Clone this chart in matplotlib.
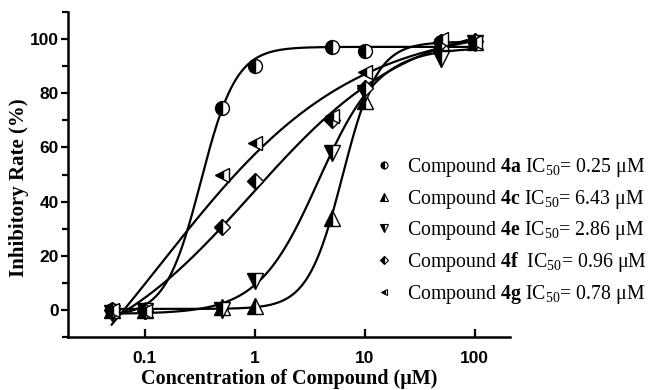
import numpy as np
import matplotlib
matplotlib.use('Agg')
import matplotlib.pyplot as plt

# ---- data ----
conc = [0.05, 0.1, 0.5, 1, 5, 10, 50, 100]
rate_4a = [0, 0, 74.5, 90, 97, 95.5, 99, 99]
rate_4c = [0, 0, 1, 1.5, 34, 77, 99, 99]
rate_4e = [-1, -0.5, 0, 10.5, 58, 80, 92.5, 98.5]
rate_4f = [0, -0.5, 30.5, 47.5, 70, 82, 99, 99.5]
rate_4g = [0, -0.5, 50, 61.5, 71.5, 88, 100, 99]
compounds = ['4a', '4c', '4e', '4f', '4g']
ic50_labels = ['0.25', '6.43', '2.86', '0.96', '0.78']
series = [rate_4a, rate_4c, rate_4e, rate_4f, rate_4g]
markers = ['o', '^', 'v', 'D', '<']
msizes = [10, 11, 11, 8.5, 10]

plt.rcParams['mathtext.fontset'] = 'custom'
plt.rcParams['mathtext.rm'] = 'Liberation Serif'
plt.rcParams['mathtext.bf'] = 'Liberation Serif:bold'
plt.rcParams['mathtext.it'] = 'Liberation Serif:italic'


def fit_logistic(x, y):
    """Least-squares 4-parameter logistic fit by grid search (bottom/top linear)."""
    x = np.asarray(x, float)
    y = np.asarray(y, float)
    lx0 = np.linspace(-2, 2, 401)
    ps = np.linspace(0.3, 6, 286)
    L, P = np.meshgrid(lx0, ps, indexing='ij')
    g = 1.0 / (1.0 + (10 ** L[..., None] / x) ** P[..., None])
    a = 1 - g
    saa = (a * a).sum(-1); sgg = (g * g).sum(-1); sag = (a * g).sum(-1)
    say = (a * y).sum(-1); sgy = (g * y).sum(-1)
    det = saa * sgg - sag ** 2
    det = np.where(np.abs(det) < 1e-12, np.nan, det)
    bot = (say * sgg - sgy * sag) / det
    top = (sgy * saa - say * sag) / det
    pred = bot[..., None] * a + top[..., None] * g
    sse = ((pred - y) ** 2).sum(-1)
    sse = np.where(np.isnan(sse), np.inf, sse)
    i, j = np.unravel_index(np.argmin(sse), sse.shape)
    return bot[i, j], top[i, j], 10 ** L[i, j], P[i, j]


fig = plt.figure(figsize=(6.53, 3.90), dpi=100)
ax = fig.add_axes([0.104, 0.136, 0.677, 0.833])

xs = np.logspace(np.log10(0.05), np.log10(100), 400)
handles = []
for ys, m, ms, c, ic in zip(series, markers, msizes, compounds, ic50_labels):
    bot, top, x0, p = fit_logistic(conc, ys)
    yc = bot + (top - bot) / (1 + (x0 / xs) ** p)
    ax.plot(xs, yc, color='black', lw=1.6, zorder=2)
    ax.plot(conc, ys, linestyle='none', marker=m, markersize=ms,
            fillstyle='left', markerfacecolor='black',
            markerfacecoloralt='white', markeredgecolor='black',
            markeredgewidth=1.0, zorder=3)
    sp = '  ' if c == '4f' else ' '
    lbl = 'Compound $\\mathbf{' + c + '}$' + sp + 'IC$_{50}$= ' + ic + ' μM'
    h, = ax.plot([], [], linestyle='none', marker=m, markersize=ms * 0.5,
                 fillstyle='left', markerfacecolor='black',
                 markerfacecoloralt='white', markeredgecolor='black',
                 markeredgewidth=0.8, label=lbl)
    handles.append(h)

ax.set_xscale('log')
ax.set_xlim(0.02, 210)
ax.set_ylim(-10, 110)
ax.set_xticks([0.1, 1, 10, 100])
ax.set_xticklabels(['0.1', '1', '10', '100'])
ax.xaxis.set_minor_locator(matplotlib.ticker.NullLocator())
ax.set_yticks([0, 20, 40, 60, 80, 100])
ax.set_yticks(np.arange(-10, 111, 10), minor=True)

for s in ['top', 'right']:
    ax.spines[s].set_visible(False)
for s in ['left', 'bottom']:
    ax.spines[s].set_linewidth(1.8)

ax.tick_params(axis='y', which='both', direction='out', width=1.6, pad=1.5)
ax.tick_params(axis='y', which='major', length=5)
ax.tick_params(axis='y', which='minor', length=4)
ax.tick_params(axis='x', which='major', direction='in', length=6, width=1.6,
               pad=10)
for lab in ax.get_xticklabels() + ax.get_yticklabels():
    lab.set_fontfamily('Liberation Sans')
    lab.set_fontweight('bold')
    lab.set_fontsize(12.5)

ax.set_xlabel('Concentration of Compound (μM)', fontfamily='Liberation Serif',
              fontweight='bold', fontsize=14.5)
ax.xaxis.set_label_coords(0.5, -0.10)
ax.set_ylabel('Inhibitory Rate (%)', fontfamily='Liberation Serif',
              fontweight='bold', fontsize=15)
ax.yaxis.set_label_coords(-0.088, 0.46)

leg = ax.legend(handles=handles, loc='upper left',
                bbox_to_anchor=(0.551, 0.635), bbox_transform=fig.transFigure,
                frameon=False, prop={'family': 'Liberation Serif', 'size': 14.3},
                handlelength=1.0, handletextpad=0.7, labelspacing=0.42,
                borderpad=0.2)

fig.savefig('out.png', dpi=100)
